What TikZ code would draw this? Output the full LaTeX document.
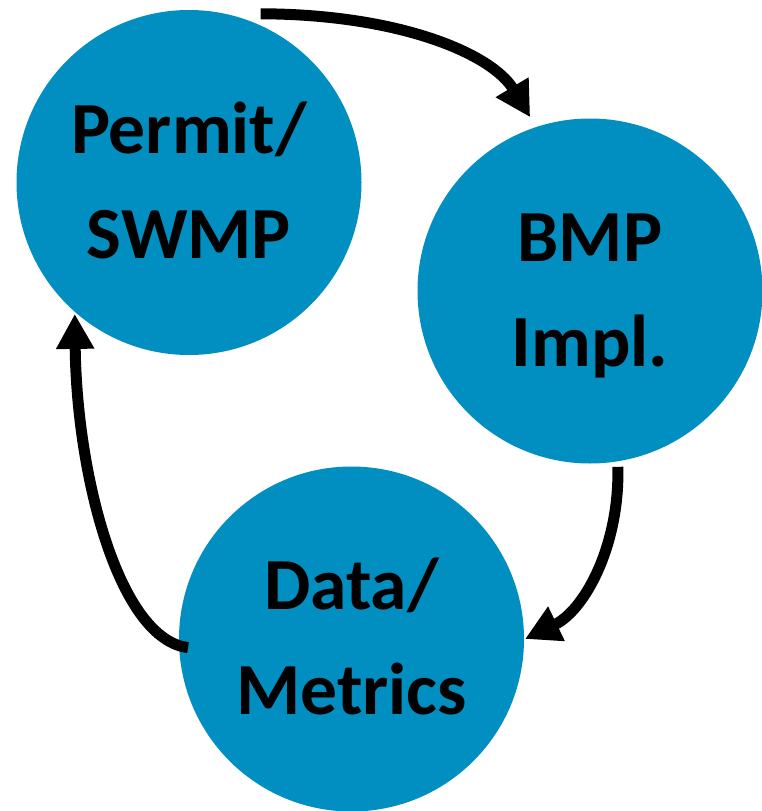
\documentclass[tikz,border=0pt]{standalone}
\usepackage{fontspec}
\setmainfont{Carlito}
\usetikzlibrary{arrows.meta,calc}
\definecolor{bubblue}{RGB}{0,143,192}
\tikzset{
  bubble/.style={circle, fill=bubblue, minimum size=345pt, inner sep=0pt, align=center,
    font=\bfseries\fontsize{73.5}{105}\selectfont, text=black},
  flow/.style={line width=11pt, -{Triangle[length=35pt,width=36pt]}},
}
\newcommand{\toplinestrut}{\rule{0pt}{71.5pt}}
\newcommand{\botlinestrut}{\rule[-25pt]{0pt}{25pt}}
\begin{document}
\begin{tikzpicture}[x=1pt,y=-1pt]
\useasboundingbox (0,0) rectangle (761,811);
\node[bubble] (p) at (189,182.5) {\toplinestrut Permit/\\SWMP\botlinestrut};
\node[bubble] (b) at (590,291) {\toplinestrut BMP\\Impl.\botlinestrut};
\node[bubble] (d) at (351.5,639) {\toplinestrut Data/\\Metrics\botlinestrut};
\coordinate (a1s) at ($(p.center)!183.3pt!(p.67.2)$);
\coordinate (a1e) at ($(b.center)!183.8pt!(b.109.7)$);
\coordinate (a2s) at ($(b.center)!178pt!(b.-81.6)$);
\coordinate (a2e) at ($(d.center)!173.5pt!(d.0)$);
\coordinate (a3s) at ($(d.center)!163.7pt!(d.183.2)$);
\coordinate (a3e) at ($(p.center)!174.1pt!(p.229.5)$);
\draw[flow] (a1s) .. controls +(140,0.5) and +(-38,-63) .. (a1e);
\draw[flow] (a2s) .. controls +(2,78) and +(60,-29) .. (a2e);
\draw[flow] (a3s) .. controls +(-68,-8) and +(2,165) .. (a3e);
\end{tikzpicture}
\end{document}
